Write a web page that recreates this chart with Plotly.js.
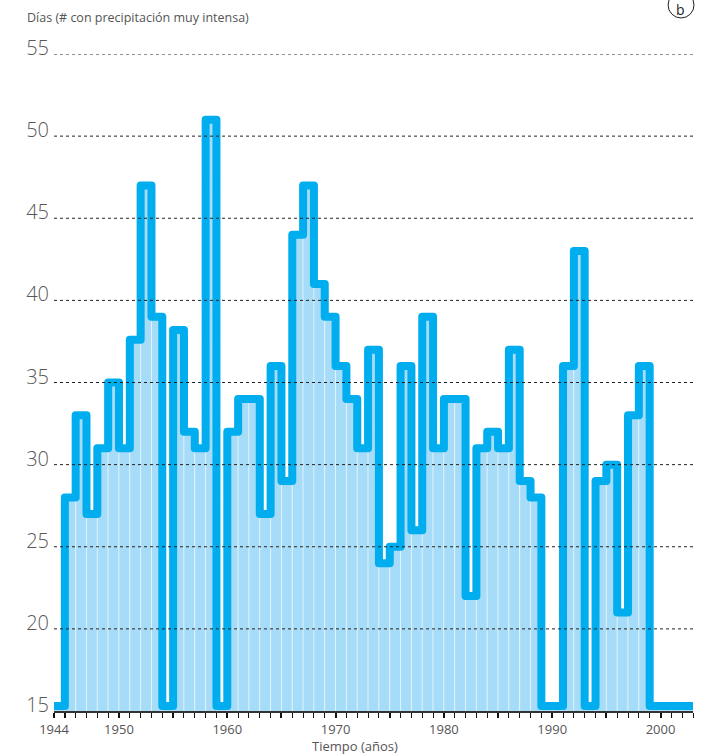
<!DOCTYPE html>
<html>
<head>
<meta charset="utf-8">
<script src="https://cdn.plot.ly/plotly-3.0.1.min.js"></script>
<style>
  html, body { margin: 0; padding: 0; background: #fff; }
  #chart { width: 718px; height: 756px; }
  .scatterlayer path { stroke-linejoin: round !important; stroke-linecap: round !important; }
</style>
</head>
<body>
<div id="chart"></div>
<script>
// ---- data ----
const years = [1944,1945,1946,1947,1948,1949,1950,1951,1952,1953,1954,1955,1956,1957,1958,1959,
  1960,1961,1962,1963,1964,1965,1966,1967,1968,1969,1970,1971,1972,1973,1974,1975,1976,1977,1978,1979,
  1980,1981,1982,1983,1984,1985,1986,1987,1988,1989,1990,1991,1992,1993,1994,1995,1996,1997,1998,1999,
  2000,2001,2002];
const days = [15.3,28,33,27,31,35,31,37.6,47,39,15.3,38.2,32,31,51,15.3,
  32,34,34,27,36,29,44,47,41,39,36,34,31,37,24,25,36,26,39,31,
  34,34,22,31,32,31,37,29,28,15.3,15.3,36,43,15.3,29,30,21,33,36,15.3,
  15.3,15.3,15.3];
const yTicks = [15,20,25,30,35,40,45,50,55];
const xTickVals = [1944,1945,1950,1955,1960,1965,1970,1975,1980,1985,1990,1995,2000];
const xTickText = ['1944','','1950','','1960','','1970','','1980','','1990','','2000'];
const xRange = [1944, 2003];
const yRange = [15, 55];
const yTitle = 'Días (# con precipitación muy intensa)';
const xTitle = 'Tiempo (años)';
const panelLabel = 'b';

// ---- derived step line (closing point at end of last year) ----
const lineX = years.concat([years[years.length - 1] + 1]);
const lineY = days.concat([days[days.length - 1]]);

const fillColor = '#a6dcf7';
const lineColor = '#00adef';
const textColor = '#555555';
const fontFam = '"Open Sans", "Noto Sans", sans-serif';

const traces = [
  {
    type: 'bar', x: years, y: days, width: 1, offset: 0,
    marker: { color: fillColor, line: { color: 'rgba(255,255,255,0.45)', width: 1 } },
    hoverinfo: 'skip', showlegend: false
  },
  {
    type: 'scatter', mode: 'lines', x: lineX, y: lineY,
    line: { shape: 'hv', color: lineColor, width: 8 },
    hoverinfo: 'skip', showlegend: false
  }
];

const gridShapes = yTicks.filter(v => v > yRange[0]).map(v => ({
  type: 'line', xref: 'paper', yref: 'y', x0: 0, x1: 1, y0: v, y1: v,
  line: { color: '#222', width: 1, dash: '3px,3px' }, layer: 'above'
}));

const layout = {
  width: 718, height: 756,
  margin: { l: 54, r: 25, t: 54, b: 45 },
  paper_bgcolor: '#fff', plot_bgcolor: '#fff',
  bargap: 0,
  font: { family: fontFam, color: textColor },
  xaxis: {
    range: xRange, showgrid: false, zeroline: false,
    showline: true, linecolor: '#333', linewidth: 2,
    ticks: 'outside', ticklen: 5, tickwidth: 2, tickcolor: '#111',
    tickmode: 'array', tickvals: xTickVals, ticktext: xTickText,
    minor: { dtick: 1, tick0: 1944, ticks: 'outside', ticklen: 5, tickwidth: 1, tickcolor: '#111', showgrid: false },
    tickfont: { size: 13, color: textColor, family: fontFam },
    fixedrange: true
  },
  yaxis: {
    range: yRange, showgrid: false, zeroline: false, showline: false,
    tickmode: 'array', tickvals: yTicks, ticks: '',
    ticklabelstandoff: 4, ticklabelshift: -6,
    tickfont: { size: 20, color: '#585858', family: fontFam, weight: 300 },
    fixedrange: true
  },
  shapes: gridShapes.concat([
    { type: 'circle', xref: 'paper', yref: 'paper',
      x0: 0.961, x1: 1.0016, y0: 1.0548, y1: 1.0944,
      line: { color: '#222', width: 1 }, fillcolor: 'rgba(0,0,0,0)', layer: 'above' }
  ]),
  annotations: [
    { text: yTitle, xref: 'paper', yref: 'paper', x: -0.0454, y: 1.0563,
      xanchor: 'left', yanchor: 'middle', showarrow: false,
      font: { size: 12.5, color: textColor, family: fontFam } },
    { text: xTitle, xref: 'paper', yref: 'paper', x: 0.471, y: -0.053,
      xanchor: 'center', yanchor: 'middle', showarrow: false,
      font: { size: 13, color: textColor, family: fontFam } },
    { text: panelLabel, xref: 'paper', yref: 'paper', x: 0.9812, y: 1.0670,
      xanchor: 'center', yanchor: 'middle', showarrow: false,
      font: { size: 14, color: '#222', family: fontFam } }
  ]
};

Plotly.newPlot('chart', traces, layout, { displayModeBar: false, staticPlot: true }).then(function (gd) {
  gd.querySelectorAll('.scatterlayer path').forEach(function (p) {
    p.style.setProperty('stroke-linejoin', 'round', 'important');
    p.style.setProperty('stroke-linecap', 'round', 'important');
  });
});
</script>
</body>
</html>
